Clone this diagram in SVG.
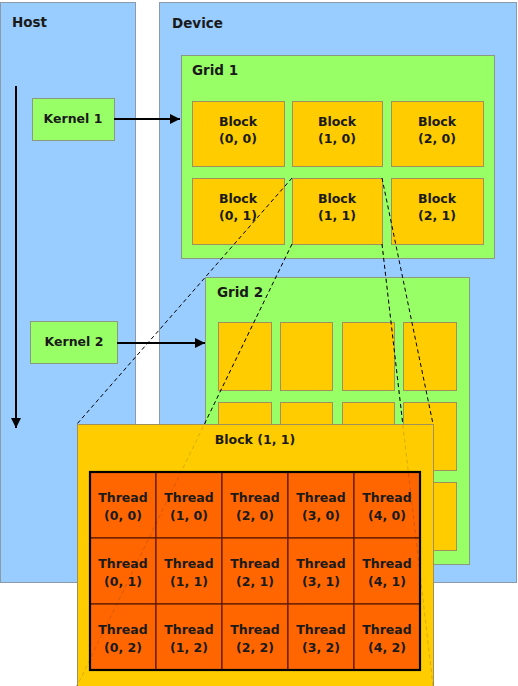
<svg xmlns="http://www.w3.org/2000/svg" width="518" height="686" viewBox="0 0 518 686">
<defs>
<marker id="ah" viewBox="0 0 10 10" refX="10" refY="5" markerWidth="5" markerHeight="6" orient="auto" markerUnits="strokeWidth"><path d="M0,0 L10,5 L0,10 z" fill="#000"/></marker>
<style>
.area{fill:#99CCFF;stroke:#8a9aa8;stroke-width:1}
.grid{fill:#99FF66;stroke:#8a9a80;stroke-width:1}
.kern{fill:#99FF66;stroke:#8a9a80;stroke-width:1}
.blk{fill:#FFCC00;stroke:#a09060;stroke-width:1}
.thr{fill:#FF6600;stroke:#5a1a00;stroke-width:1.2}
text{font-family:"DejaVu Sans","Verdana",sans-serif;font-weight:bold;fill:#1a1a1a}
.lbl{font-size:13.5px}
.t{font-size:12.5px;text-anchor:middle}
.arr{stroke:#000;stroke-width:2;fill:none;marker-end:url(#ah)}
.dash{stroke:#000;stroke-width:1;stroke-dasharray:4 3;fill:none}
</style>
</defs>
<g id="host"><rect class="area" x="0.5" y="2.5" width="135" height="580"/><text class="lbl" x="12" y="27">Host</text></g>
<g id="device"><rect class="area" x="159.5" y="2.5" width="357" height="580"/><text class="lbl" x="172" y="28">Device</text></g>
<g id="kernel1"><rect class="kern" x="32.5" y="98.5" width="82" height="42"/><text class="t" x="73" y="123">Kernel 1</text></g>
<g id="kernel2"><rect class="kern" x="30.5" y="321.5" width="87" height="42"/><text class="t" x="74" y="346">Kernel 2</text></g>
<g id="grid1">
<rect class="grid" x="181.5" y="55.5" width="313" height="203"/><text class="lbl" x="192" y="75">Grid 1</text>
<g id="b00"><rect class="blk" x="192.5" y="101.5" width="92" height="65"/><text class="t" x="238" y="126">Block</text><text class="t" x="238" y="143">(0, 0)</text></g>
<g id="b10"><rect class="blk" x="292.5" y="101.5" width="90" height="65"/><text class="t" x="337" y="126">Block</text><text class="t" x="337" y="143">(1, 0)</text></g>
<g id="b20"><rect class="blk" x="391.5" y="101.5" width="92" height="65"/><text class="t" x="437" y="126">Block</text><text class="t" x="437" y="143">(2, 0)</text></g>
<g id="b01"><rect class="blk" x="192.5" y="178.5" width="92" height="66"/><text class="t" x="238" y="203">Block</text><text class="t" x="238" y="220">(0, 1)</text></g>
<g id="b11"><rect class="blk" x="292.5" y="178.5" width="90" height="66"/><text class="t" x="337" y="203">Block</text><text class="t" x="337" y="220">(1, 1)</text></g>
<g id="b21"><rect class="blk" x="391.5" y="178.5" width="92" height="66"/><text class="t" x="437" y="203">Block</text><text class="t" x="437" y="220">(2, 1)</text></g>
</g>
<g id="grid2">
<rect class="grid" x="205.5" y="277.5" width="264" height="287"/><text class="lbl" x="217" y="297">Grid 2</text>
<rect class="blk" x="218.5" y="322.5" width="53" height="68"/><rect class="blk" x="280.5" y="322.5" width="52" height="68"/><rect class="blk" x="342.5" y="322.5" width="52" height="68"/><rect class="blk" x="403.5" y="322.5" width="53" height="68"/>
<rect class="blk" x="218.5" y="402.5" width="53" height="68"/><rect class="blk" x="280.5" y="402.5" width="52" height="68"/><rect class="blk" x="342.5" y="402.5" width="52" height="68"/><rect class="blk" x="403.5" y="402.5" width="53" height="68"/>
<rect class="blk" x="218.5" y="482.5" width="53" height="68"/><rect class="blk" x="280.5" y="482.5" width="52" height="68"/><rect class="blk" x="342.5" y="482.5" width="52" height="68"/><rect class="blk" x="403.5" y="482.5" width="53" height="68"/>
</g>
<g id="connectors">
<line class="arr" x1="16" y1="86" x2="16" y2="428"/>
<line class="arr" x1="114" y1="119" x2="180" y2="119"/>
<line class="arr" x1="117" y1="343" x2="205" y2="343"/>
<line class="dash" x1="292" y1="178" x2="77" y2="424"/>
<line class="dash" x1="292" y1="244" x2="77" y2="686"/>
<line class="dash" x1="382" y1="178" x2="433" y2="424"/>
<line class="dash" x1="382" y1="244" x2="433" y2="686"/>
</g>
<g id="block11">
<rect class="blk" x="77.5" y="424.5" width="356" height="264"/>
<text class="t" x="255" y="444">Block (1, 1)</text>
<g id="threads">
<rect class="thr" x="90" y="472" width="66" height="66"/><rect class="thr" x="156" y="472" width="66" height="66"/><rect class="thr" x="222" y="472" width="66" height="66"/><rect class="thr" x="288" y="472" width="66" height="66"/><rect class="thr" x="354" y="472" width="66" height="66"/>
<rect class="thr" x="90" y="538" width="66" height="66"/><rect class="thr" x="156" y="538" width="66" height="66"/><rect class="thr" x="222" y="538" width="66" height="66"/><rect class="thr" x="288" y="538" width="66" height="66"/><rect class="thr" x="354" y="538" width="66" height="66"/>
<rect class="thr" x="90" y="604" width="66" height="66"/><rect class="thr" x="156" y="604" width="66" height="66"/><rect class="thr" x="222" y="604" width="66" height="66"/><rect class="thr" x="288" y="604" width="66" height="66"/><rect class="thr" x="354" y="604" width="66" height="66"/>
<rect x="90" y="472" width="330" height="198" fill="none" stroke="#000" stroke-width="2.2"/>
<text class="t" x="123" y="502">Thread</text><text class="t" x="123" y="520">(0, 0)</text>
<text class="t" x="189" y="502">Thread</text><text class="t" x="189" y="520">(1, 0)</text>
<text class="t" x="255" y="502">Thread</text><text class="t" x="255" y="520">(2, 0)</text>
<text class="t" x="321" y="502">Thread</text><text class="t" x="321" y="520">(3, 0)</text>
<text class="t" x="387" y="502">Thread</text><text class="t" x="387" y="520">(4, 0)</text>
<text class="t" x="123" y="568">Thread</text><text class="t" x="123" y="586">(0, 1)</text>
<text class="t" x="189" y="568">Thread</text><text class="t" x="189" y="586">(1, 1)</text>
<text class="t" x="255" y="568">Thread</text><text class="t" x="255" y="586">(2, 1)</text>
<text class="t" x="321" y="568">Thread</text><text class="t" x="321" y="586">(3, 1)</text>
<text class="t" x="387" y="568">Thread</text><text class="t" x="387" y="586">(4, 1)</text>
<text class="t" x="123" y="634">Thread</text><text class="t" x="123" y="652">(0, 2)</text>
<text class="t" x="189" y="634">Thread</text><text class="t" x="189" y="652">(1, 2)</text>
<text class="t" x="255" y="634">Thread</text><text class="t" x="255" y="652">(2, 2)</text>
<text class="t" x="321" y="634">Thread</text><text class="t" x="321" y="652">(3, 2)</text>
<text class="t" x="387" y="634">Thread</text><text class="t" x="387" y="652">(4, 2)</text>
</g>
</g>
<g id="connectors-faint" opacity="0.15">
<line class="dash" x1="292" y1="244" x2="77" y2="686"/>
<line class="dash" x1="382" y1="244" x2="433" y2="686"/>
</g>
</svg>
